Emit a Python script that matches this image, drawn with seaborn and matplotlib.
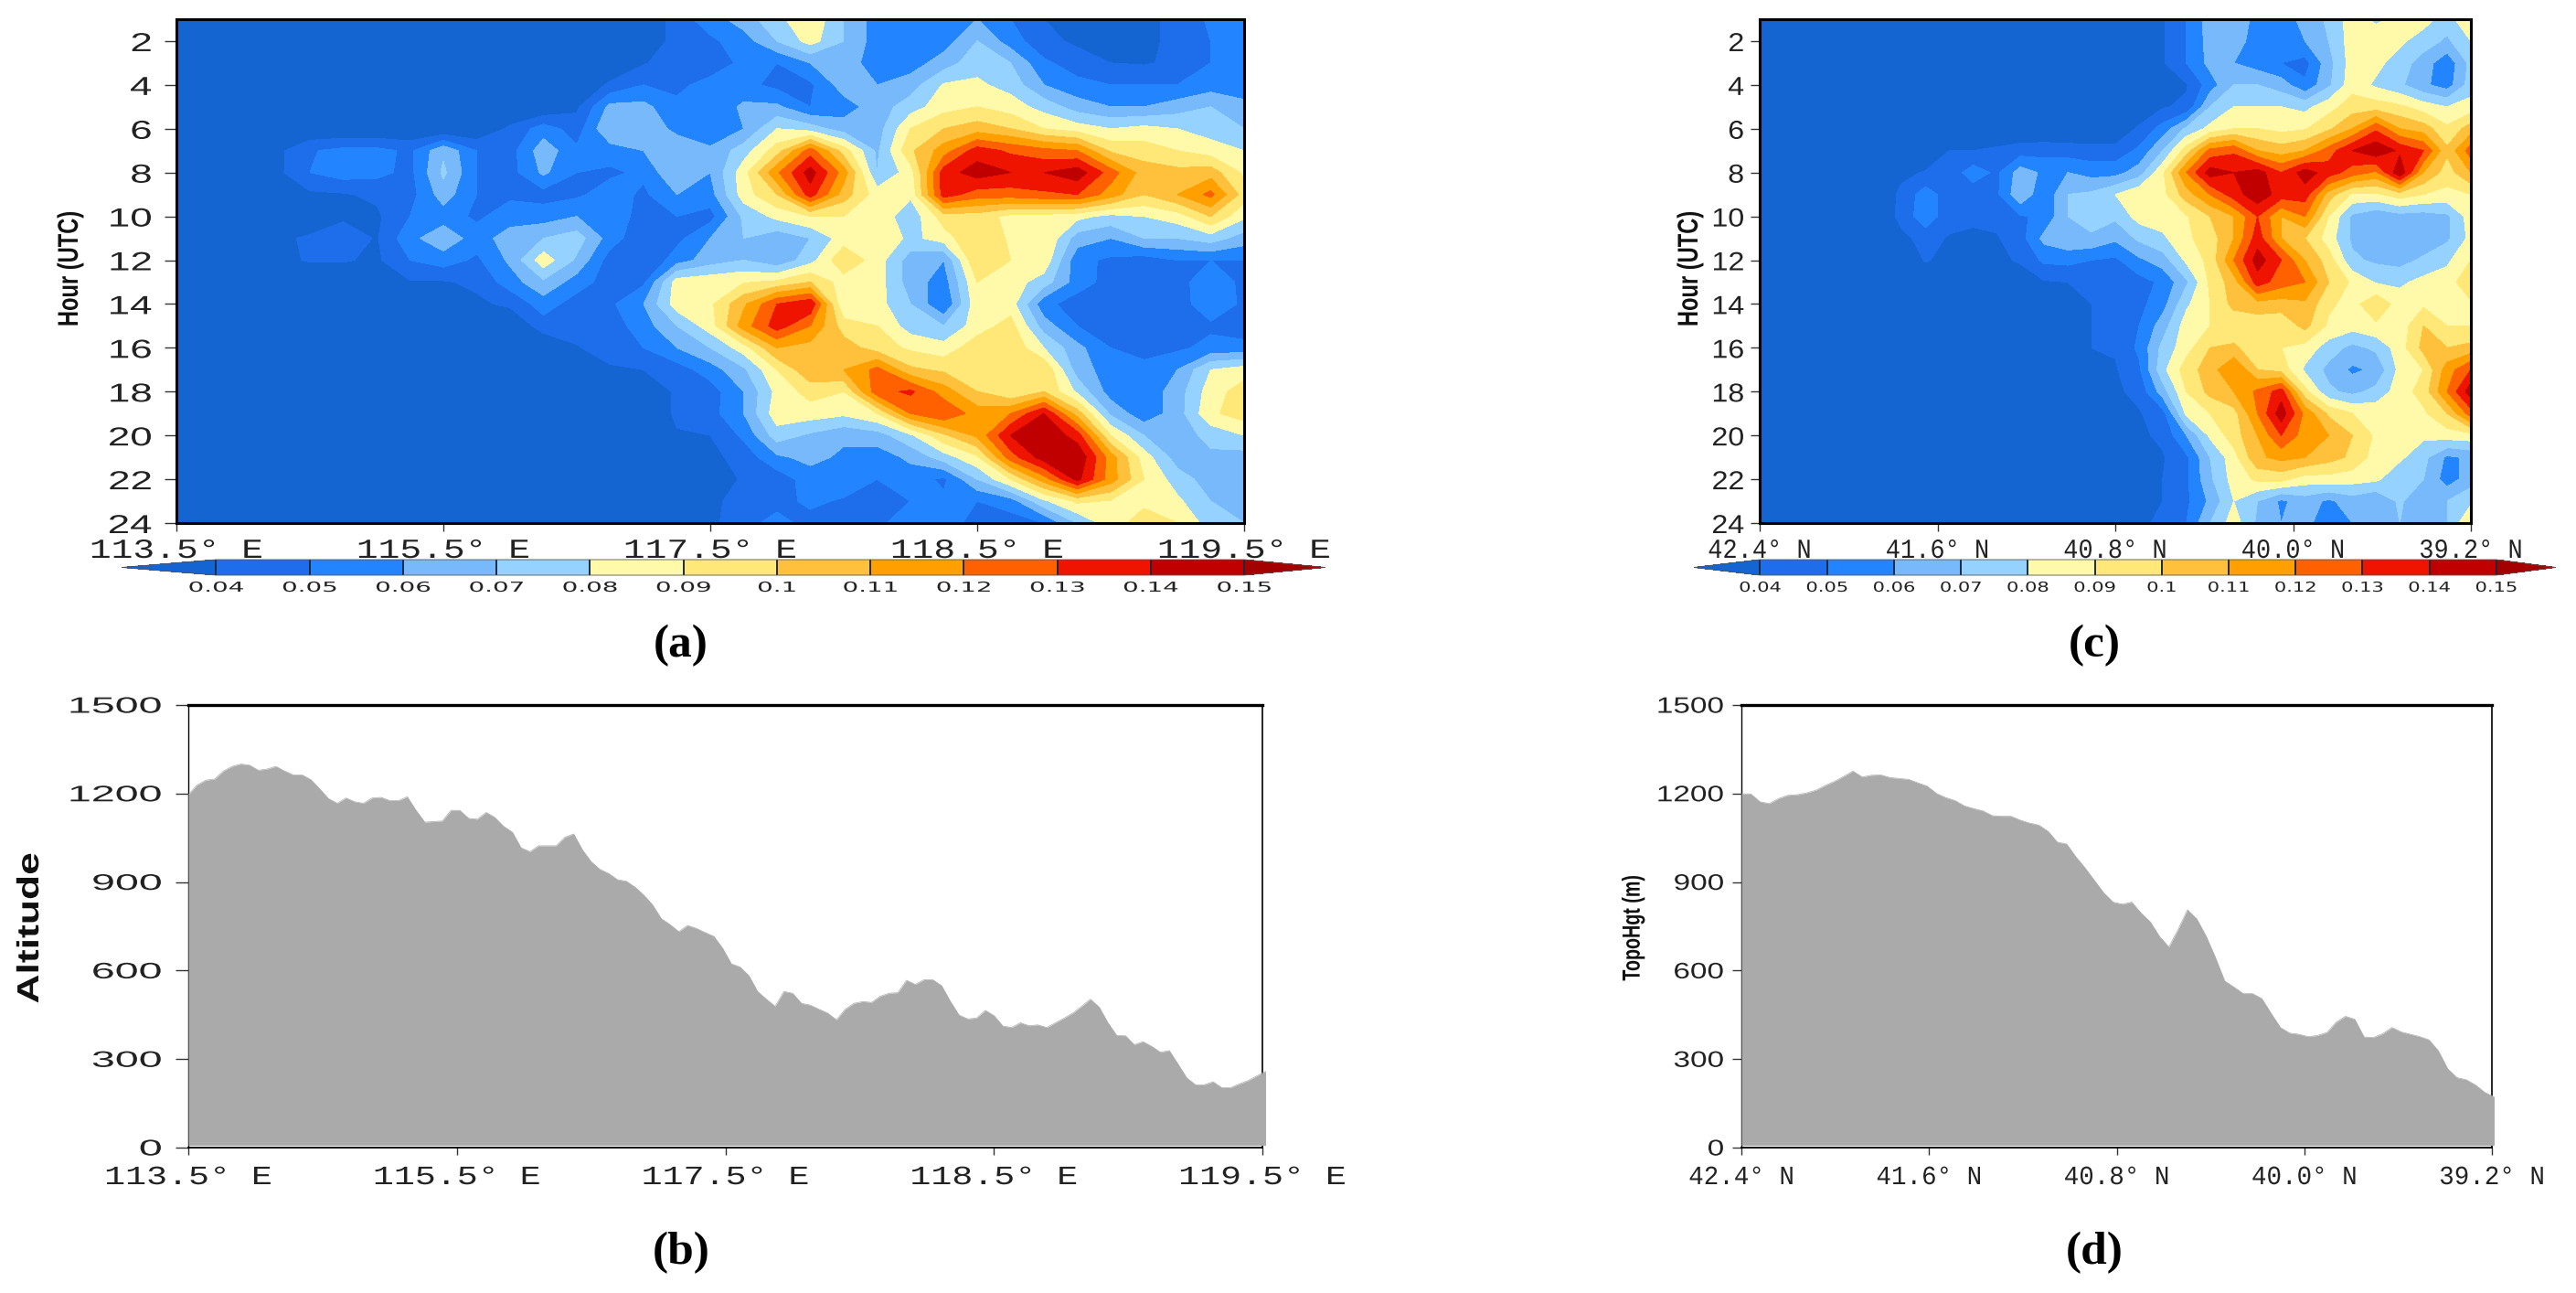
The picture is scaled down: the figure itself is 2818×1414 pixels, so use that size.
import numpy as np
import matplotlib
matplotlib.use("Agg")
import matplotlib.pyplot as plt
from matplotlib.patheffects import AbstractPathEffect
from matplotlib.transforms import Affine2D
import seaborn as sns

# ---------- data (units of 0.01) ----------
hours = list(range(1, 25))
hour_ticks = [2, 4, 6, 8, 10, 12, 14, 16, 18, 20, 22, 24]
levels = [0.04, 0.05, 0.06, 0.07, 0.08, 0.09, 0.10, 0.11, 0.12, 0.13, 0.14, 0.15]
level_labels = ["0.04", "0.05", "0.06", "0.07", "0.08", "0.09", "0.1", "0.11", "0.12", "0.13", "0.14", "0.15"]
colors = ["#1464d2", "#1e6eeb", "#2384ff", "#78b9fb", "#96d2ff", "#fffaaa", "#ffe878", "#ffc03c",
          "#ffa000", "#ff6000", "#ee1400", "#c00000", "#a50000"]
lon_labels = ["113.5° E", "115.5° E", "117.5° E", "118.5° E", "119.5° E"]
lat_labels = ["42.4° N", "41.6° N", "40.8° N", "40.0° N", "39.2° N"]
alt_ticks = [0, 300, 600, 900, 1200, 1500]

rows_a = [
 [4.5,5.5,6.5,7.7,8.8,7,5.5,5,5.5,6,5,4,4,3.8,3.8,4.2,5.2,5.5],
 [4.5,4.8,5.5,7,8.4,7,5.5,5,5.5,7,5.5,4.3,3.8,3.8,3.8,4.2,5,5.5],
 [3.9,4.6,4.5,5.2,5.0,6,6.5,5.5,5.5,6.5,7.6,7,5.2,4.5,4,3.9,4.2,5,5.3],
 [4.2,5,4.8,5.3,5.3,4.7,4.8,6.5,6,6.5,8.1,8.2,7.6,6,5.3,5,5,5,5.5,5],
 [3.8,6.3,6.3,5.2,5.2,6.2,6.2,5,5.5,6.5,7.5,8.6,9,8.5,7.6,6.5,6,6,6.5,7,6.5],
 [4.2,5.5,4.5,7,6.5,5.8,5.2,6,8,7.5,6.5,6.5,9,10,10.5,10,9,8.5,8,8.3,8,7.5,7],
 [3.7,4.9,5.3,5.3,4.8,6.8,5,4.6,6.6,5.2,5.5,6,6.5,6.2,7.5,9.5,12.5,9.5,6.8,9.8,11.5,13.5,12.8,12.3,12,9.8,9.5,9,8.5,8],
 [3.7,5,5.5,5.3,4.7,7.2,5,4.6,6.2,5,4.8,5.2,7,6,8.6,11.8,14.5,11.5,7,8.5,13.5,14.5,14,14,14.6,12.5,10.5,10.3,10.5,8.8],
 [3.8,3.9,4.2,4.6,6.5,5,4.8,4.6,4.8,5.5,4.8,6,5.6,8.5,10,13.5,10.5,8.5,8.2,13.5,12.5,12.5,12.8,13,11.5,10,11,12.3,9.5],
 [3.8,3.8,5,5.5,4.8,5.5,5.5,6,5.3,4.8,5,4.6,7.2,8.3,9,9,8.7,7.3,9.5,9.5,8.7,8.6,8.3,7.7,8,8.5,10,8.2],
 [3.7,4.2,4.6,3.9,5.7,6.7,5.5,6.5,7,7.5,5.5,4.2,4.7,6,7,6.3,7,8.5,9,7.7,8.5,10,8.8,9,6.5,6,7,7,7.5,6.5],
 [3.7,4.1,4.1,3.8,5,5.5,4.8,6.2,8.6,6.8,4.5,4,5.5,6.5,7,6.2,7.6,9.8,8.5,6.5,6,10,9,8.7,5.3,4.8,4.5,5,5,5],
 [3.7,3.9,3.9,4.2,5.5,6.8,5.5,4.5,4.8,8.5,8.7,8.9,9.2,10,8.5,8.5,6.5,5.5,9,8.5,7.5,5.5,4.6,4.5,4.7,5.5,4.8],
 [3.8,4.2,5.5,4.5,4.8,6,8.5,8.8,10.8,13,13.8,8,8.4,7,5,8.7,8.5,5.3,4.5,4.3,4.5,4.5,5.7,4.8],
 [4.5,4.5,4.5,5.5,7,8.5,11.5,13.5,12,9.5,9,7.5,7,8.5,9.4,6.5,5,4.5,4.3,4.8,4.8,4.5],
 [3.9,4.6,5,6,7,8.5,11,10.6,10.5,9.5,8.8,8.4,9.6,9.8,8,6.3,5,4.4,4.8,5.3,5.3],
 [3.8,4,4.5,5.5,6.8,9,10.8,11,12.3,10.2,9.8,9.5,9.2,9.9,6.5,5.5,5.5,6,8,8.5],
 [4.2,4.5,6,8.3,9.4,9,12.6,13.2,11.5,10,9,10,7.8,5.5,5.3,6.5,8.5,9.5],
 [4.2,4.6,6,8.6,8.5,8.2,9,12,12.9,11.5,12,14,10.5,6.8,5.3,6.5,8.8,9.5],
 [3.9,4,5.2,7.5,6.8,6.2,6.5,7.8,9.8,11.2,14,14.9,13.5,9,7,6.5,7.3,8],
 [3.7,4.4,5.8,6.3,5.8,5.5,6.2,7.5,8.8,12.5,14.5,14.9,11.5,8.5,6.5,6.8,6.5],
 [4.2,4.4,5.5,6,5,5.5,4.8,7,9,11.5,14.3,11.5,9,7.5,6.5,6.5],
 [3.7,4.5,4.5,5.3,4.8,5,5,5.2,5,5.5,7.8,9.2,8.9,8.8,8.2,7,6.8],
 [3.8,4.5,5.5,4.5,4.3,4.8,5.5,5.5,4.6,4.5,5,7,8.6,9.4,9,7.5,7],
]
rows_c = [
 [3.9,5,6.5,7,5.5,5.5,6.3,7.2,8.5,7.8,8.3,8.4,7.5,9],
 [3.9,5,6.4,6.5,5.5,5.2,6,7,8.5,8.6,8.2,7.5,6.8,8],
 [3.9,5,6.3,6,5.5,5,4.6,6.6,8.5,8.3,7.5,6.5,5.3,7.3],
 [3.9,5.5,7,7,6.5,5.2,6.8,8.6,7.8,7.2,6.2,5.5,7.5],
 [3.9,4.2,7,8,8,8,7.7,8.6,9.5,9.5,9.2,8.5,8,8.4],
 [4.2,5.4,7.2,8.3,9,9,8.7,8.9,9.8,11,12.8,11,10.5,9.2,10.5],
 [4,4,4.2,4.5,4.6,4.5,4.4,4.4,5.2,7,9.5,12.3,12.8,11,10.5,11,12.5,14,14.8,13.8,13,10.2,12.5],
 [3.7,4.1,4.4,5.5,4.8,6.5,5.8,6,5.6,5.6,6.5,8.8,12,14.5,14,14.5,13,14.5,13.5,12.5,11.8,14.8,11,9.5,11],
 [4.3,5.5,4.5,4.4,4.8,6.8,5.2,7,7.2,8,8.8,8.7,10.5,12,13.5,14.7,13.5,13.5,10.5,8.8,8.8,9.5,9,8.7,9],
 [4.4,5.6,4.4,4.2,4.3,4.9,5.2,7,7.5,7.2,8.4,8.5,8.9,10,11,13,11,12,9,6.8,6.2,6.6,6.5,6.8,8.5],
 [3.7,4.4,3.9,3.8,3.9,4.6,6.3,6.8,6.8,6.2,7.2,7.8,8.8,9.5,11,13.5,11,10,8.5,6.8,6.3,6,6.2,6.8,8.3],
 [4.1,3.6,3.6,3.6,4.2,5.2,5.3,5,4.8,5.8,6.5,8.2,9.3,12,14.5,13,11,9.5,7.2,6.8,6.6,7.2,7.8,9],
 [3.9,4,4.3,4.3,4.6,5.2,6.8,9.2,10.5,13.5,12.5,12,10,8.8,7.9,7.8,8.3,8.5,9.8],
 [3.7,4,4.2,4.7,5.6,7.8,9,10.3,10.6,10.5,10.8,9.2,8.6,9.8,8.5,8.8,8.7,8.8],
 [4,4.1,5,6.5,8.5,9,9.2,9.3,9.2,10.3,8.8,8.4,8.8,8.4,10,9,9],
 [4,4.1,5.2,7.3,8.6,10,10.2,9.3,9,8.6,7.5,6.7,7.2,8.5,10.3,10,10.3],
 [3.8,3.9,4.8,7.7,9.5,10.5,12,10,9.6,7.8,6.7,5.8,6.2,8.3,9,11.5,13],
 [3.8,4.3,6.5,9,10.3,11,12.2,13.5,9.3,7.2,6.7,7.3,8.5,9.4,12,14.6],
 [3.9,4.6,8.2,9,9.6,12,14.6,11.7,9.8,9,8.7,8.8,8.8,10,12.5],
 [3.8,4.2,6,8.2,9.5,11,13,11.5,11,10,8.8,8.6,8.2,8.5,8.6],
 [3.8,3.9,4.8,7,8.6,10.8,11.3,11,10.4,9.8,8.5,8.2,7.3,5.8,6.2],
 [3.7,4,4.8,6.8,8.4,9.2,9.3,8.5,8.6,8.4,8.2,7.2,7,5.5,6.5],
 [3.7,4,4.8,6.2,8,7,5.8,6.5,5.8,6.5,6,7.2,6,7,7.8],
 [3.7,4.3,5,7,8.5,6.8,6,6.5,5,6,6.5,7,6.5,7,9],
]
altitude_b = [1196,1229,1245,1249,1276,1292,1300,1296,1279,1283,1292,1276,1263,1263,1247,1216,1183,1167,1185,1172,
 1167,1185,1187,1176,1176,1189,1143,1103,1105,1107,1143,1143,1116,1113,1136,1119,1089,1069,1016,1003,
 1023,1023,1023,1052,1063,1009,969,943,929,908,903,883,856,823,776,756,732,753,743,729,
 716,676,623,612,583,529,503,479,529,523,489,483,469,456,433,469,489,495,492,513,
 523,525,567,553,569,569,549,496,449,436,439,465,447,412,407,423,413,416,407,423,
 439,456,479,503,476,423,380,379,349,359,343,323,329,283,236,213,213,223,203,203,
 216,227,243,259]
altitude_d = [1199,1199,1172,1166,1183,1194,1196,1202,1211,1227,1241,1258,1276,1256,1262,1263,1254,1251,1248,1236,
 1225,1200,1186,1176,1158,1149,1141,1125,1123,1123,1110,1100,1093,1072,1035,1029,985,947,905,863,
 832,825,832,795,765,715,680,740,806,775,717,645,565,544,522,522,505,455,407,388,
 384,376,380,390,425,445,435,375,373,386,407,392,384,376,365,328,267,237,230,212,
 187,172]

W, H = 2818, 1414

class Stretch(AbstractPathEffect):
    """Widen a text's glyphs along its baseline (about centre or right end) and across it."""
    def __init__(self, sx, anchor="center", sy=1.0):
        super().__init__()
        self.sx, self.anchor, self.sy = sx, anchor, sy
    def draw_path(self, renderer, gc, tpath, affine, rgbFace=None):
        e = tpath.get_extents()
        x0 = e.x1 if self.anchor == "right" else 0.5 * (e.x0 + e.x1)
        y0 = 0.5 * (e.y0 + e.y1)
        a = Affine2D().translate(-x0, -y0).scale(self.sx, self.sy).translate(x0, y0) + affine
        renderer.draw_path(gc, tpath, a, rgbFace)

def px_axes(fig, l, t, r, b):
    return fig.add_axes([l / W, 1 - b / H, (r - l) / W, (b - t) / H])

def pts(p):
    return p * 0.72

sns.set_theme(style="ticks")
plt.rcParams["font.family"] = ["Liberation Sans", "DejaVu Sans"]
palette = sns.color_palette(colors)
fig = plt.figure(figsize=(W / 100, H / 100), dpi=100, facecolor="white")

def heat_panel(rows, n_cols, box, cbar_box, ext, cb_sx, xlabels, xlab_fs, xlab_sx, ytick_sx, ytick_pad, ytick_len, lab_x):
    grid = np.array([[3.0] * (n_cols - len(r)) + r for r in rows]) / 100.0
    x = np.linspace(0, 1, n_cols)
    ax = px_axes(fig, *box)
    cs = ax.contourf(x, hours, grid, levels=levels, colors=palette, extend="both")
    ax.set_xlim(0, 1)
    ax.set_ylim(24, 1)
    ax.set_xticks(np.linspace(0, 1, 5))
    ax.set_xticklabels(xlabels, family="Liberation Mono", fontsize=xlab_fs, color="#222222")
    ax.set_yticks(hour_ticks)
    ax.set_yticklabels([str(h) for h in hour_ticks], fontsize=pts(28.5), color="#222222")
    ax.tick_params(axis="x", length=pts(9), width=1, pad=pts(7), color="#333333")
    ax.tick_params(axis="y", length=pts(ytick_len), width=1, pad=pts(ytick_pad), color="#333333")
    for s in ax.spines.values():
        s.set_linewidth(2.2)
        s.set_color("black")
    for t in ax.get_xticklabels():
        t.set_path_effects([Stretch(xlab_sx)])
    for t in ax.get_yticklabels():
        t.set_path_effects([Stretch(ytick_sx, "right")])
    lab = fig.text(lab_x / W, 1 - 294 / H, "Hour (UTC)", rotation=90, ha="center", va="center",
                   fontsize=15.5, fontweight="bold", color="#111111")
    lab.set_path_effects([Stretch(1.1, "center", 1.45)])
    cax = px_axes(fig, *cbar_box)
    cb = fig.colorbar(cs, cax=cax, orientation="horizontal", drawedges=True, ticks=levels, extendfrac=ext)
    cb.dividers.set_linewidth(1.4)
    cb.dividers.set_color("#1a2a40")
    cb.outline.set_linewidth(0.6)
    cb.outline.set_edgecolor("#555555")
    cb.ax.minorticks_off()
    cb.ax.tick_params(axis="x", length=0, pad=pts(6))
    cb.ax.set_xticklabels(level_labels, family="DejaVu Sans", fontsize=pts(15), color="#222222")
    for t in cb.ax.get_xticklabels():
        t.set_path_effects([Stretch(cb_sx)])

def terrain_panel(alt, box, xlabels, xlab_fs, xlab_sx, ytick_sx, ytick_pad, ytick_len, ylabel, lab_x, lab_fs, lab_sx, lab_sy):
    ax = px_axes(fig, *box)
    x = np.linspace(0, 1.003, len(alt))
    sns.lineplot(x=x, y=alt, ax=ax, color="#aaaaaa", linewidth=0.5, zorder=3, clip_on=False)
    ax.fill_between(x, 8, alt, color="#aaaaaa", linewidth=0, zorder=3, clip_on=False)
    ax.set_xlim(0, 1)
    ax.set_ylim(0, 1500)
    ax.set_xticks(np.linspace(0, 1, 5))
    ax.set_xticklabels(xlabels, family="Liberation Mono", fontsize=xlab_fs, color="#222222")
    ax.set_yticks(alt_ticks)
    ax.set_yticklabels([str(a) for a in alt_ticks], fontsize=pts(24.5), color="#222222")
    ax.tick_params(axis="x", length=pts(8), width=1, pad=pts(10), color="#333333")
    ax.tick_params(axis="y", length=pts(ytick_len), width=1, pad=pts(ytick_pad), color="#333333")
    ax.spines["top"].set_linewidth(2.4)
    ax.spines["bottom"].set_linewidth(1.4)
    ax.spines["left"].set_linewidth(1.0)
    ax.spines["right"].set_linewidth(1.2)
    for s in ax.spines.values():
        s.set_color("black")
    for t in ax.get_xticklabels():
        t.set_path_effects([Stretch(xlab_sx)])
    for t in ax.get_yticklabels():
        t.set_path_effects([Stretch(ytick_sx, "right")])
    lab = fig.text(lab_x / W, 1 - 1015 / H, ylabel, rotation=90, ha="center", va="center",
                   fontsize=lab_fs, fontweight="bold", color="#111111")
    lab.set_path_effects([Stretch(lab_sx, "center", lab_sy)])

heat_panel(rows_a, 33, (193, 21, 1361, 572), (133, 612, 1450, 629), [0.092, 0.079], 1.85,
           lon_labels, pts(30), 1.32, 1.54, 14, 13, 77)
heat_panel(rows_c, 31, (1925, 21, 2703, 572), (1853, 612, 2796, 629), [0.09, 0.081], 1.4,
           lat_labels, pts(30), 0.9, 1.13, 7, 10, 1849)
terrain_panel(altitude_b, (206, 771, 1381, 1255), lon_labels, pts(29), 1.32, 1.9, 15, 14,
              "Altitude", 33, 20, 1.6, 1.2)
terrain_panel(altitude_d, (1905, 771, 2726, 1255), lat_labels, pts(29), 0.95, 1.36, 9, 10,
              "TopoHgt (m)", 1787, 13.5, 1.05, 1.45)

for label, cx, cy in [("(a)", 745, 706), ("(b)", 745, 1370), ("(c)", 2291, 706), ("(d)", 2291, 1370)]:
    fig.text(cx / W, 1 - cy / H, label, ha="center", va="center", family="Liberation Serif",
             fontsize=37, fontweight="bold", color="black")

fig.savefig("out.png", dpi=100, facecolor="white")
